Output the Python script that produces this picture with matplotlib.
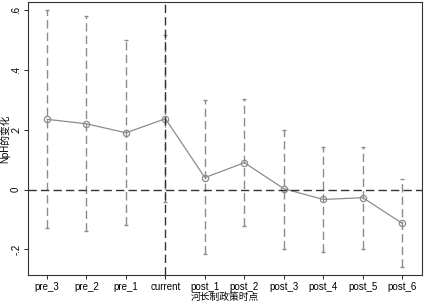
import matplotlib
matplotlib.use("Agg")
import matplotlib.pyplot as plt

plt.rcParams['font.family'] = ['Liberation Sans', 'Noto Sans CJK SC', 'DejaVu Sans']

periods = ["pre_3", "pre_2", "pre_1", "current", "post_1", "post_2",
           "post_3", "post_4", "post_5", "post_6"]
coef = [0.235, 0.22, 0.19, 0.237, 0.04, 0.09, 0.003, -0.033, -0.027, -0.113]
ci_high = [0.60, 0.58, 0.50, 0.517, 0.30, 0.303, 0.20, 0.143, 0.143, 0.037]
ci_low = [-0.13, -0.137, -0.117, -0.04, -0.217, -0.123, -0.197, -0.21, -0.20, -0.26]
y_ticks = [-0.2, 0, 0.2, 0.4, 0.6]
y_tick_labels = ["-.2", "0", ".2", ".4", ".6"]

x = list(range(1, len(periods) + 1))
grey = "#8c8c8c"

fig, ax = plt.subplots(figsize=(4.25, 3.01), dpi=100)
fig.subplots_adjust(left=0.066, right=0.993, top=0.993, bottom=0.085)

ax.vlines(x, ci_low, ci_high, colors=grey, linestyles=(0, (6, 3)), linewidth=1.0)
ax.scatter(x, ci_high, marker="_", s=12, color=grey, linewidths=1.0)
ax.scatter(x, ci_low, marker="_", s=12, color=grey, linewidths=1.0)
ax.plot(x, coef, color=grey, linewidth=0.9, marker="o", markersize=4.5,
        markerfacecolor="none", markeredgecolor=grey, markeredgewidth=0.9)

ax.axhline(0, color="#333333", linestyle=(0, (6, 3)), linewidth=1.0)
ax.axvline(4, color="#333333", linestyle=(0, (6, 3)), linewidth=1.0)

ax.set_xlim(0.52, 10.5)
ax.set_ylim(-0.287, 0.627)
ax.set_xticks(x)
ax.set_xticklabels(periods, fontsize=7)
ax.set_yticks(y_ticks)
ax.set_yticklabels(y_tick_labels, fontsize=7, rotation=90, va="center")
ax.tick_params(length=3, width=0.6, pad=2)
ax.set_xlabel("河长制政策时点", fontsize=7, labelpad=0)
ax.set_ylabel("NpH的变化", fontsize=7)
ax.yaxis.set_label_coords(-0.045, 0.5)
for s in ax.spines.values():
    s.set_linewidth(0.8)
    s.set_color("#333333")

fig.savefig("out.png", dpi=100)
